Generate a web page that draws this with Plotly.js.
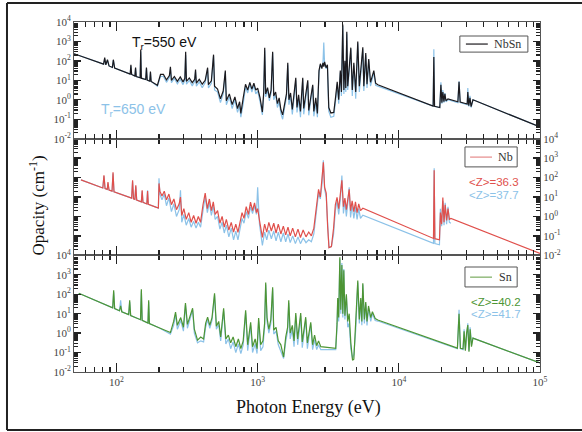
<!DOCTYPE html>
<html><head><meta charset="utf-8">
<script src="https://cdn.plot.ly/plotly-3.0.1.min.js"></script>
<style>html,body{margin:0;padding:0;background:#fff}#chart{width:582px;height:432px}</style>
</head><body><div id="chart"></div>
<script>
// ---------- Top panel: NbSn (Tr = 550 eV black, Tr = 650 eV blue) ----------
const nbsnE = [50,81,82.5,84,86.3,88.5,93.5,95,97,125,126.5,128,135,136.5,138,147,148.5,150,161,163,165,172,174,176,195,205,
215,226,237,241,245,257,270,283,296,305,309,313,328,344,358,363,368,386,405,425,442,448,470,487,495,
520,545,570,590,600,630,660,690,720,745,760,
790,820,850,880,910,940,970,1000,1040,1080,
1104,1122,1140,1175,1210,1245,1277,1300,1340,1380,1420,1460,1503,
1560,1600,1634,1665,1710,1760,1810,1862,1900,1950,2010,2050,2086,2120,2190,2264,2300,2380,2455,2500,2580,2650,
2720,2780,2850,2900,2940,2980,3050,3120,3190,3300,3460,
3573,3660,3750,3850,3920,4007,4080,4150,4210,4280,4345,4450,4570,4680,4800,4950,5118,5250,5400,5557,5650,5830,5950,6120,6300,6650,6850,7100,
17500,17700,17900,19500,19860,20190,20500,20870,21200,21570,22300,26200,26700,27200,30500,30800,31300,31900,32500,33500,100000];
const nbsn550 = [234,68,148,63,115,55,46,115,43,21,63,20,16.6,45,15.8,13.5,380,12.9,11,45,10.3,9.0,28,8.8,5.6,20,
20,10.5,17.8,50,10,15.8,8.9,15.1,8.3,12.6,295,8.9,13.2,7.6,11.2,35.5,7.1,11.2,6.3,10,44.7,6.0,9.5,209,5.0,
3.55,1.12,2.82,31.6,0.89,2.0,0.56,1.41,0.355,0.79,0.20,
1.26,6.3,3.16,7.9,3.55,7.1,3.16,4.0,1.26,0.234,
2.51,479,2.0,4.17,1.26,3.16,295,1.58,2.51,0.63,1.26,0.316,0.166,
0.63,2.0,79,1.0,2.24,0.316,2.0,13.5,0.40,1.78,0.25,1.58,13.5,0.355,2.0,10,0.28,1.58,5.9,0.25,1.26,0.20,
31.6,71,40,79,50,89,45,63,0.40,0.21,0.224,
1.58,8.3,1.0,31.6,2.51,7400,3.16,100,4.0,3160,5.0,63,479,3.16,79,2.51,1000,5.0,50,500,5.0,251,6.3,126,7.9,31.6,7.1,5.9,
0.47,158,0.457,0.40,5.9,0.71,2.51,0.79,2.0,0.89,1.12,0.79,8.3,0.76,0.60,2.51,0.50,1.26,0.447,1.0,0.04];
const nbsn650 = [234,68,126,63,105,55,46,110,43,21,55,20,16.6,40,15.8,13.5,300,12.9,11,42,10.3,9.0,25,8.8,5.0,16,
15.8,7.9,14.1,39.8,7.6,12.6,6.6,11.2,6.0,10,200,6.3,10,5.2,8.9,28.2,5.0,8.3,4.2,7.6,35.5,4.0,7.1,178,3.2,
2.51,0.71,2.0,25.1,0.56,1.41,0.355,1.0,0.224,0.50,0.126,
0.63,4.47,2.24,6.3,2.51,5.6,2.0,2.82,0.79,0.166,
1.78,355,1.41,3.16,0.89,2.24,251,1.0,1.78,0.40,0.79,0.20,0.10,
0.40,1.41,63,0.56,1.58,0.178,1.26,10,0.224,1.12,0.126,1.0,11.2,0.178,1.26,7.9,0.158,1.0,5.0,0.141,0.63,0.126,
25,63,50,71,870,63,40,56,0.25,0.126,0.141,
1.0,6.3,0.63,25,1.58,6300,2.0,79,2.51,2510,3.16,50,398,1.58,63,1.12,794,2.51,40,398,2.82,200,4.0,100,5.0,25,5.6,5.0,
0.47,398,0.457,0.40,7.9,0.63,3.16,0.71,2.24,0.79,1.0,0.71,8.9,0.71,0.56,3.98,0.447,1.58,0.40,1.0,0.04];

// ---------- Middle panel: Nb (<Z>=36.3 red, <Z>=37.7 blue) ----------
const nbE = [56,80,81.5,83,86,87,88.5,93,94.5,96,128,130,132,135,137,139,150,152,154,164,166,168,192,198,200,203,
210,218,226,235,245,255,266,278,284,290,300,312,325,338,352,366,380,394,
410,425,440,455,470,485,500,520,
540,560,580,600,625,650,675,700,725,
750,775,800,830,860,890,920,950,980,1000,1030,1080,
1120,1160,1200,1250,1300,1350,1400,1460,1520,1580,1640,1700,1770,1850,1930,2010,2100,2200,2300,2400,
2500,2600,2700,2780,2860,2920,2980,3060,3130,3200,3330,3450,
3550,3650,3750,3850,3950,4050,4150,4250,4350,4450,4550,4670,4800,4930,5060,5200,5350,5560,
17600,17800,18000,19400,19700,20100,20500,20900,21300,21800,22300,22800,23400,100000];
const nbZ363 = [76,29,132,27,24.5,58,22.7,20,186,18.4,8.7,72,8.0,7.5,40,6.9,5.6,22,5.3,4.4,20,4.2,2.95,2.75,50,20,
11.2,20,7.1,14.1,4.0,7.9,2.24,4.47,10,1.12,2.51,0.71,1.58,0.50,1.12,0.447,1.0,0.50,
4.0,15.8,2.51,7.9,2.0,5.6,1.26,2.0,
0.447,1.0,0.28,0.71,0.20,0.50,0.158,0.40,0.151,
0.50,1.58,0.79,3.16,1.26,5.4,2.0,5.0,1.58,2.51,0.63,0.083,
0.40,0.158,0.50,0.178,0.447,0.141,0.40,0.126,0.316,0.112,0.28,0.10,0.25,0.089,0.224,0.083,0.20,0.089,0.158,0.10,
0.25,3.16,25,10,72,617,31.6,15.8,0.316,0.025,0.028,0.25,
4.0,9.5,2.51,10,72,3.16,8.9,2.24,7.9,25,2.0,6.3,1.78,5.6,1.58,4.47,2.0,2.63,
0.074,240,0.072,0.063,1.58,0.40,9.5,0.50,4.0,0.63,2.51,0.71,0.79,0.0126];
const nbZ377 = [76,29,120,27,24.5,50,22.7,20,160,18.4,8.7,63,8.0,7.5,35,6.9,5.6,20,5.3,4.4,22,4.2,2.95,2.65,91,14,
7.1,14.1,3.55,8.9,1.78,4.47,1.0,2.24,22,0.50,1.26,0.355,0.79,0.28,0.56,0.25,0.50,0.28,
2.0,10,1.58,5.0,1.12,3.55,0.71,1.0,
0.224,0.50,0.141,0.355,0.089,0.25,0.063,0.178,0.063,
0.20,0.79,0.447,1.78,0.79,3.16,1.41,3.55,1.26,31.6,0.40,0.032,
0.158,0.063,0.20,0.071,0.178,0.056,0.158,0.050,0.141,0.050,0.126,0.045,0.10,0.040,0.089,0.040,0.079,0.045,0.063,0.050,
0.126,2.0,15.8,7.9,50,776,25,10,0.20,0.025,0.028,0.126,
2.0,6.3,1.26,7.1,126,1.41,6.3,1.0,5.0,31.6,0.89,4.0,0.79,3.16,0.71,2.51,0.79,1.15,
0.041,302,0.040,0.035,2.51,0.316,6.3,0.355,5.0,0.40,3.16,0.50,0.447,null];

// ---------- Bottom panel: Sn (<Z>=40.2 green, <Z>=41.7 blue) ----------
const snE = [54,94,95.5,97,105,107,109,122,124,126,148,150,152,167,169,171,200,241,
254,262,270,285,298,308,318,330,346,356,375,395,414,428,442,458,475,495,510,530,547,574,595,620,644,
670,700,730,760,790,822,850,892,920,960,990,1016,1050,1090,
1120,1140,1165,1200,1240,1277,1300,1350,1400,1460,1527,
1580,1630,1660,1700,1760,1810,1862,1920,1970,2018,2070,2130,2190,2250,2310,2377,2450,2530,2620,2700,2800,
3573,3650,3690,3750,3820,3880,3950,4010,4076,4150,4250,4345,4450,4570,4700,4800,4955,5118,5250,5375,5470,5557,5700,5830,5950,6100,6325,6500,6800,7100,
26000,26700,27300,28500,29000,29600,30200,30800,31400,32000,32700,33500,100000];
const snZ402 = [112,20,158,18.2,14.1,25,12.6,8.9,49,8.0,4.9,178,4.5,3.3,49,3.1,1.9,1.07,
4.0,12,2.51,6.3,2.0,34.7,2.82,7.1,19,1.58,0.437,0.63,0.50,3.16,6.6,2.51,6.3,112,2.24,4.0,0.63,19,0.50,0.79,0.316,
0.63,0.20,0.50,0.158,0.40,15.1,0.25,3.63,0.20,0.50,0.158,5.9,0.25,0.40,
3.16,398,6.3,1.58,5.0,229,1.41,2.0,0.40,0.25,0.059,
0.63,2.0,49,1.0,2.51,0.40,10.7,0.50,2.0,10.7,0.355,1.58,6.6,0.316,1.26,3.63,0.25,0.79,0.224,0.40,0.20,
0.166,3.16,63,6.3,7940,15.8,3160,10,1700,7.9,100,4.0,10,0.316,0.04,0.045,3.16,500,5.0,63,4.0,363,5.0,40,4.0,25,6.3,12.6,5.6,4.7,
0.17,10,0.166,0.158,1.26,0.126,1.0,2.57,0.112,1.58,0.20,0.55,0.029];
const snZ417 = [112,20,126,18.2,14.1,49,12.6,8.9,40,8.0,4.9,141,4.5,3.3,40,3.1,1.9,0.89,
2.51,8.9,1.58,4.47,1.26,28,1.78,5.0,15.8,1.0,0.316,0.40,0.355,2.0,5.0,1.78,4.47,89,1.58,2.82,0.40,14.1,0.28,0.50,0.158,
0.355,0.10,0.28,0.089,0.25,11.2,0.126,2.51,0.10,0.28,0.089,4.0,0.126,0.20,
2.0,316,4.0,1.0,3.16,178,0.89,1.26,0.25,0.126,0.050,
0.355,1.26,35.5,0.50,1.58,0.20,7.9,0.25,1.26,7.9,0.178,1.0,5.0,0.158,0.79,2.82,0.141,0.447,0.141,0.25,0.141,
0.141,2.0,50,4.0,6300,10,3980,6.3,2000,5.0,79,2.0,3.16,0.158,0.05,0.079,1.58,398,3.16,50,2.51,316,3.16,31.6,2.51,20,4.0,10,4.47,4.17,
0.158,15.8,0.158,0.141,1.58,0.141,1.26,3.16,0.126,2.0,0.25,0.55,0.029];

// ---------- Tick labels ----------
const yDecades = [-2,-1,0,1,2,3,4];
const xDecades = [2,3,4,5];

const yTickVals = yDecades.map(p => Math.pow(10, p));
const yTickText = yDecades.map(p => '10<sup>' + p + '</sup>');
const xTickVals = xDecades.map(p => Math.pow(10, p));
const xTickText = xDecades.map(p => '10<sup>' + p + '</sup>');
const yMinor = [];
yDecades.slice(0, -1).forEach(p => { for (let d = 2; d <= 9; d++) yMinor.push(d * Math.pow(10, p)); });
const xMinor = [60, 70, 80, 90];
[2,3,4].forEach(p => { for (let d = 2; d <= 9; d++) xMinor.push(d * Math.pow(10, p)); });

const BLUE = '#8cc2e8', BLACK = '#1c1a1e', RED = '#e0504c', GREEN = '#4d9534';
const tickFont = {family: 'Liberation Serif, serif', size: 11, color: '#444'};

function yAx(domain, side, showLabels) {
  return {domain: domain, type: 'log', range: [-2, 4], side: side,
    tickmode: 'array', tickvals: yTickVals, ticktext: yTickText, showticklabels: showLabels,
    ticks: 'inside', ticklen: 7, tickwidth: 1.3, tickcolor: '#222',
    showline: true, linecolor: '#555', linewidth: 1, mirror: 'allticks',
    showgrid: false, zeroline: false, tickfont: tickFont, fixedrange: true,
    minor: {tickmode: 'array', tickvals: yMinor, ticks: 'inside', ticklen: 4, tickwidth: 1.2, tickcolor: '#222', showgrid: false}};
}
function xAx(anchor, showLabels) {
  return {anchor: anchor, type: 'log', range: [Math.log10(50), 5],
    tickmode: 'array', tickvals: xTickVals, ticktext: xTickText, showticklabels: showLabels,
    ticks: 'inside', ticklen: 9, tickwidth: 1.3, tickcolor: '#222',
    showline: true, linecolor: '#555', linewidth: 1, mirror: 'allticks',
    showgrid: false, zeroline: false, tickfont: tickFont, fixedrange: true,
    minor: {tickmode: 'array', tickvals: xMinor, ticks: 'inside', ticklen: 5, tickwidth: 1.1, tickcolor: '#222', showgrid: false}};
}

const traces = [
  {x: nbsnE, y: nbsn650, xaxis: 'x3', yaxis: 'y3', mode: 'lines', line: {color: BLUE, width: 1.2}, name: 'Tr=650 eV'},
  {x: nbsnE, y: nbsn550, xaxis: 'x3', yaxis: 'y3', mode: 'lines', line: {color: BLACK, width: 1.2}, name: 'NbSn'},
  {x: nbE, y: nbZ377, xaxis: 'x2', yaxis: 'y2', mode: 'lines', line: {color: BLUE, width: 1.2}, name: '<Z>=37.7'},
  {x: nbE, y: nbZ363, xaxis: 'x2', yaxis: 'y2', mode: 'lines', line: {color: RED, width: 1.2}, name: 'Nb'},
  {x: snE, y: snZ417, xaxis: 'x', yaxis: 'y', mode: 'lines', line: {color: BLUE, width: 1.2}, name: '<Z>=41.7'},
  {x: snE, y: snZ402, xaxis: 'x', yaxis: 'y', mode: 'lines', line: {color: GREEN, width: 1.2}, name: 'Sn'}
];

const SANS = 'Liberation Sans, Arial, sans-serif', SERIF = 'Liberation Serif, Times New Roman, serif';
const ann = (text, x, y, color, size, family, extra) => Object.assign({text: text, x: x, y: y, xref: 'paper', yref: 'paper',
  xanchor: 'center', yanchor: 'middle', showarrow: false, font: {color: color, size: size, family: family}}, extra || {});
const pline = (x0, x1, y0, y1, color, width) => ({type: 'line', xref: 'paper', yref: 'paper', x0: x0, x1: x1, y0: y0, y1: y1, line: {color: color, width: width}});
const prect = (x0, x1, y0, y1) => ({type: 'rect', xref: 'paper', yref: 'paper', x0: x0, x1: x1, y0: y0, y1: y1, fillcolor: '#fff', line: {color: '#555', width: 1}});

const layout = {
  width: 582, height: 432, margin: {l: 74, r: 42, t: 22, b: 60},
  paper_bgcolor: '#fff', plot_bgcolor: '#fff', showlegend: false,
  xaxis: xAx('y', true), xaxis2: Object.assign(xAx('y2', false), {matches: 'x'}), xaxis3: Object.assign(xAx('y3', false), {matches: 'x'}),
  yaxis: yAx([0, 0.3333], 'left', true),
  yaxis2: yAx([0.3333, 0.6667], 'right', true),
  yaxis3: yAx([0.6667, 1], 'left', true),
  annotations: [
    ann('T<sub>r</sub>=550 eV', 0.195, 0.941, '#111', 14, SANS),
    ann('T<sub>r</sub>=650 eV', 0.127, 0.750, BLUE, 14, SANS),
    ann('&lt;Z&gt;=36.3', 0.843, 0.543, RED, 11.5, SANS, {xanchor: 'left'}),
    ann('&lt;Z&gt;=37.7', 0.843, 0.506, BLUE, 11.5, SANS, {xanchor: 'left'}),
    ann('&lt;Z&gt;=40.2', 0.848, 0.200, GREEN, 11.5, SANS, {xanchor: 'left'}),
    ann('&lt;Z&gt;=41.7', 0.848, 0.166, BLUE, 11.5, SANS, {xanchor: 'left'}),
    ann('NbSn', 0.931, 0.937, '#333', 12, SERIF),
    ann('Nb', 0.925, 0.614, '#333', 12, SERIF),
    ann('Sn', 0.925, 0.271, '#333', 12, SERIF),
    ann('Photon Energy (eV)', 0.503, -0.10, '#111', 18, SERIF),
    ann('Opacity (cm<sup>-1</sup>)', -0.080, 0.475, '#111', 17, SERIF, {textangle: -90})
  ],
  shapes: [
    pline(-0.1438, -0.1438, -0.166, 1.054, '#222', 2),
    pline(-0.1438, 1.1, 1.054, 1.054, '#222', 2),
    pline(-0.1438, 1.1, -0.166, -0.166, '#222', 2),
    prect(0.828, 0.974, 0.914, 0.960),
    pline(0.841, 0.888, 0.937, 0.937, BLACK, 1.2),
    prect(0.839, 0.951, 0.586, 0.643),
    pline(0.850, 0.897, 0.614, 0.614, '#e58a8a', 1.2),
    prect(0.839, 0.951, 0.243, 0.300),
    pline(0.850, 0.897, 0.271, 0.271, '#7aab5f', 1.2)
  ]
};

Plotly.newPlot('chart', traces, layout, {displayModeBar: false, staticPlot: true});
</script>
</body></html>
